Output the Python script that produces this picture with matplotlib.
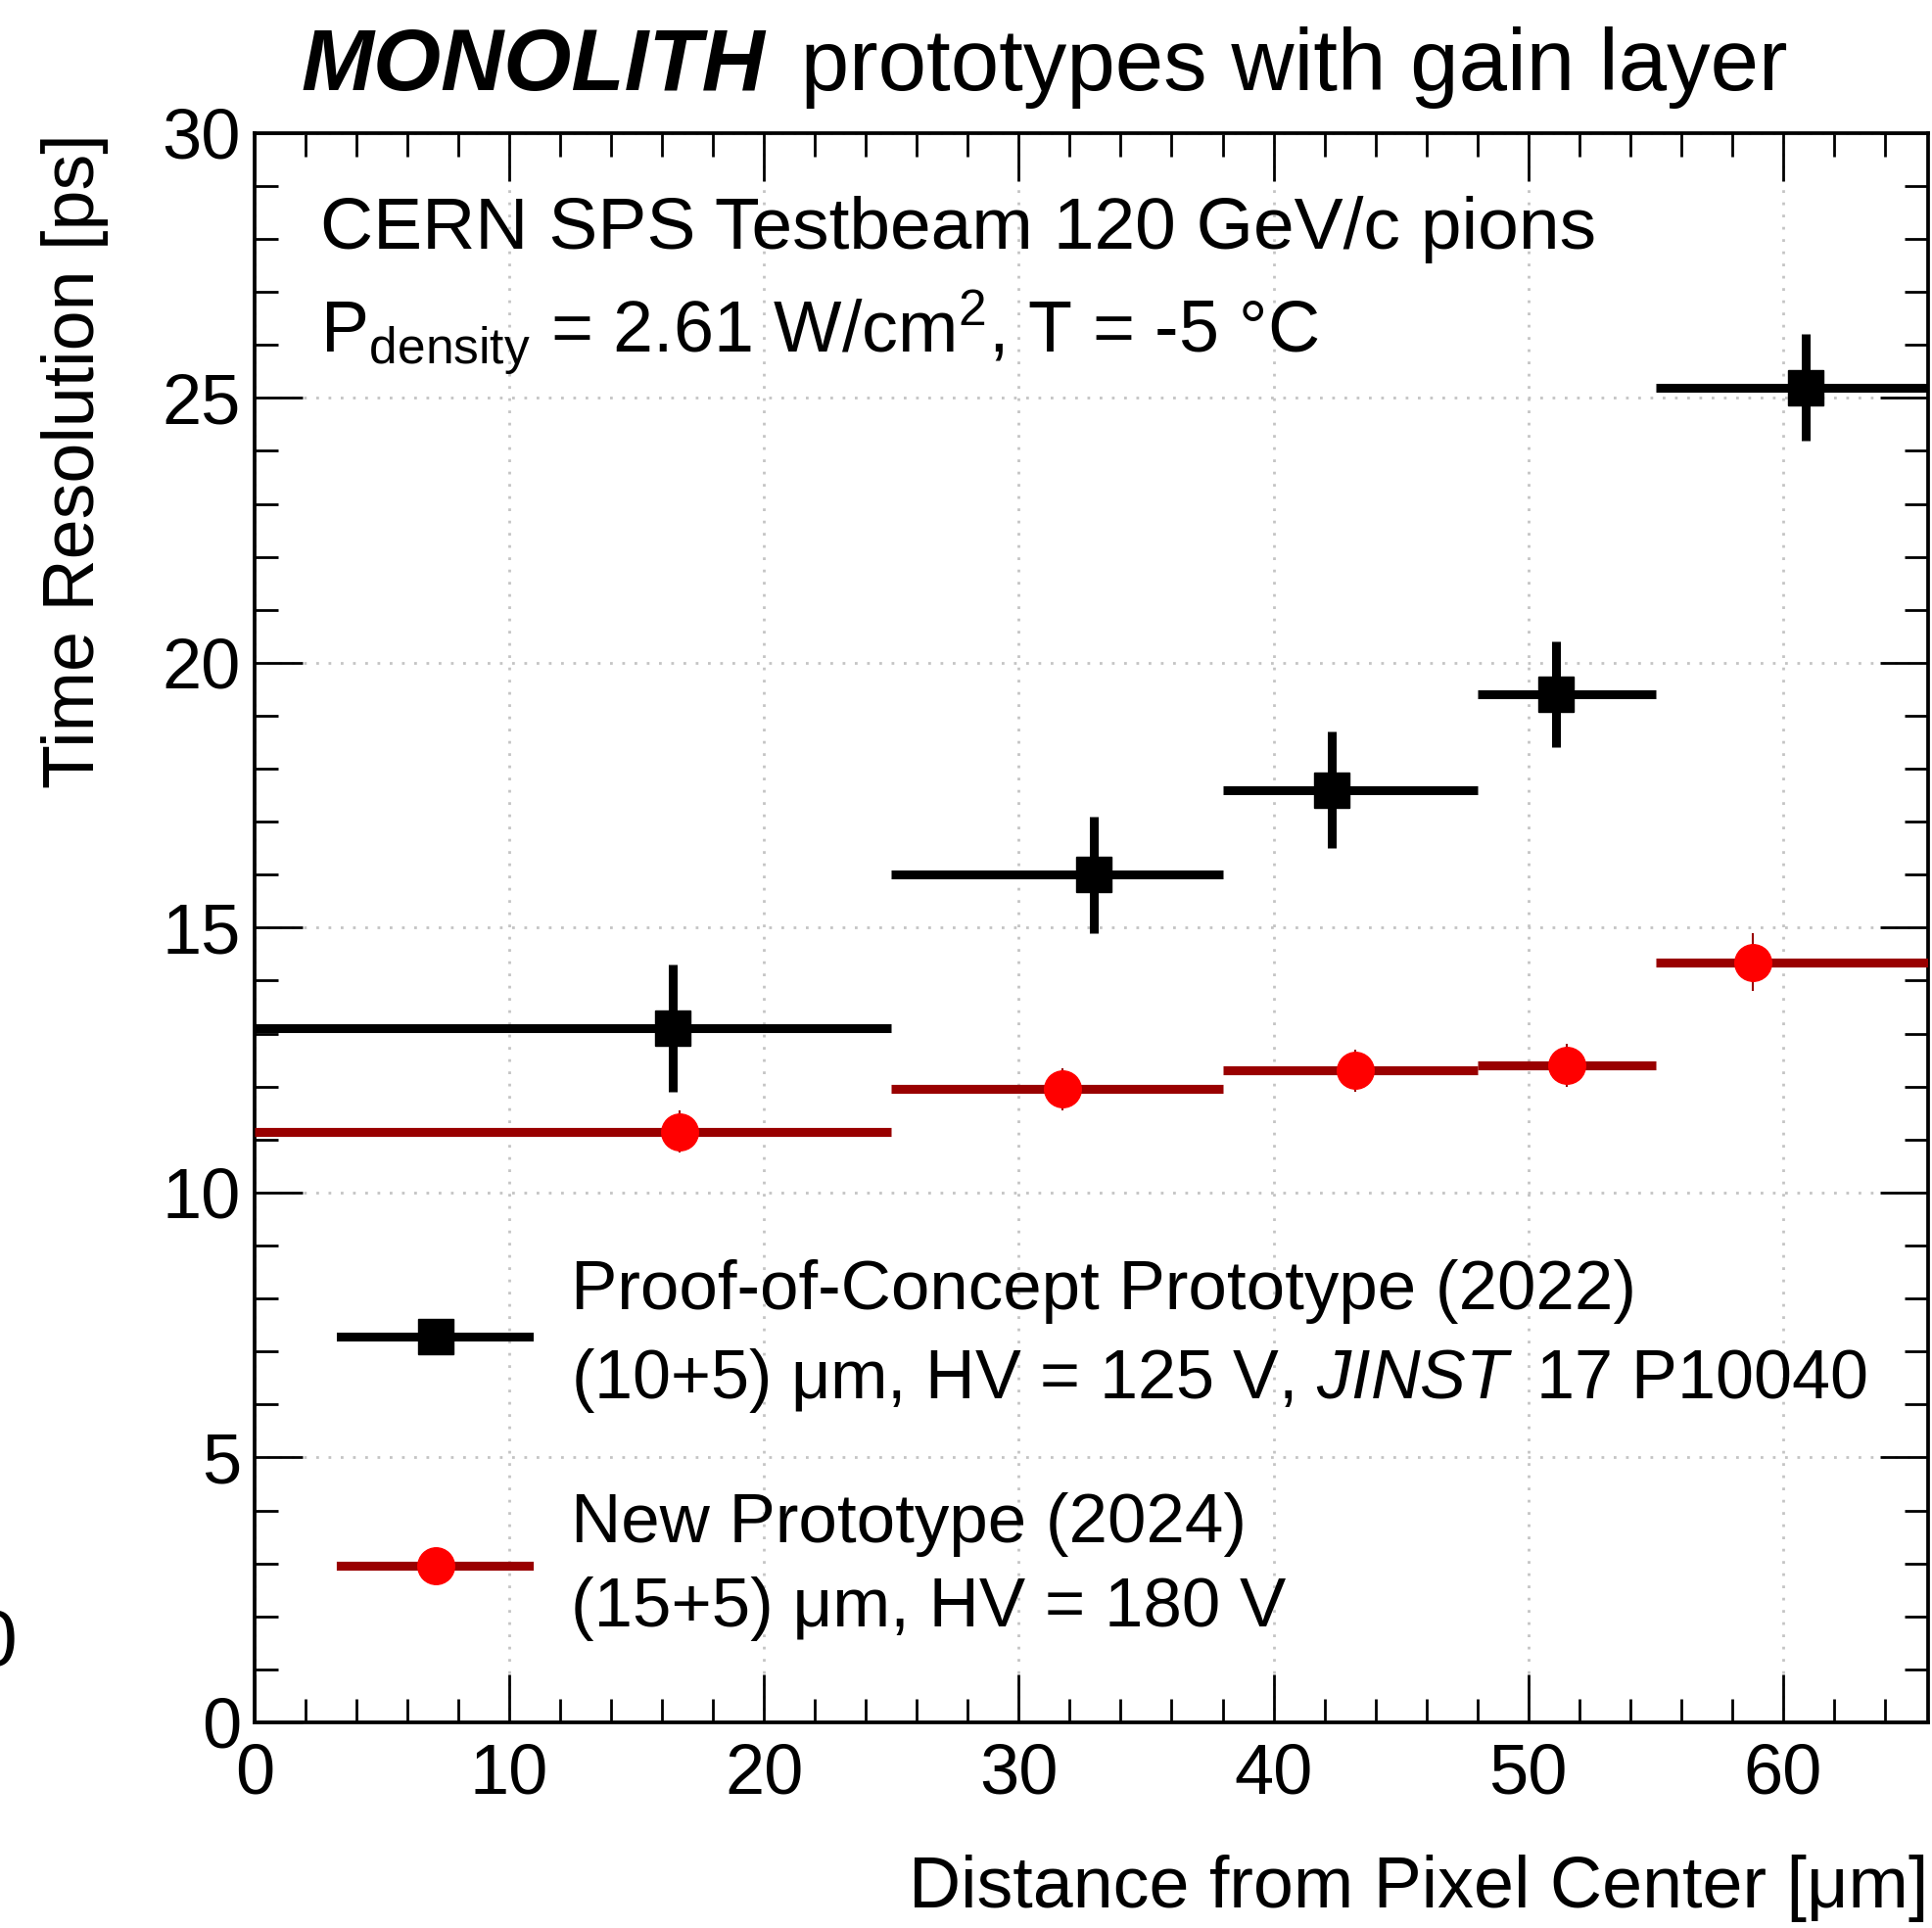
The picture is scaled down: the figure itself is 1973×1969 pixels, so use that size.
import matplotlib
matplotlib.use("Agg")
import matplotlib.pyplot as plt
from matplotlib.ticker import MultipleLocator

plt.rcParams["font.family"] = ["Liberation Sans", "DejaVu Sans"]
plt.rcParams["mathtext.fontset"] = "custom"
plt.rcParams["mathtext.rm"] = "Liberation Sans"
plt.rcParams["mathtext.it"] = "Liberation Sans:italic"
plt.rcParams["mathtext.bf"] = "Liberation Sans:bold"

# distance bins [um]
bin_lo = [0, 25, 38, 48, 55]
bin_hi = [25, 38, 48, 55, 65.7]

# Proof-of-Concept prototype (2022)
poc_x = [16.4, 32.95, 42.3, 51.1, 60.9]
poc_y = [13.1, 16.0, 17.6, 19.4, 25.2]
poc_err = [1.2, 1.1, 1.1, 1.0, 1.0]

# New prototype (2024)
new_x = [16.7, 31.7, 43.2, 51.5, 58.8]
new_y = [11.15, 11.95, 12.3, 12.4, 14.35]
new_err = [0.4, 0.4, 0.4, 0.4, 0.55]

dark_red = "#990000"

fig = plt.figure(figsize=(19.73, 19.69), dpi=100)
ax = fig.add_axes([0.1318, 0.1067, 0.8662, 0.8243])

# new prototype: bin-width bars, thin y errors, red dots
ax.errorbar(new_x, new_y,
            xerr=[[x - lo for x, lo in zip(new_x, bin_lo)],
                  [hi - x for x, hi in zip(new_x, bin_hi)]],
            fmt="none", ecolor=dark_red, elinewidth=6.6, capsize=0, zorder=3)
ax.errorbar(new_x, new_y, yerr=new_err, fmt="o", ms=27, color="red",
            ecolor=dark_red, elinewidth=1.5, capsize=0, zorder=4)

# proof-of-concept: black squares
ax.errorbar(poc_x, poc_y,
            xerr=[[x - lo for x, lo in zip(poc_x, bin_lo)],
                  [hi - x for x, hi in zip(poc_x, bin_hi)]],
            yerr=poc_err, fmt="s", ms=26.4, color="black",
            elinewidth=6.5, capsize=0, zorder=5)

ax.set_xlim(0, 65.7)
ax.set_ylim(0, 30)
ax.xaxis.set_major_locator(MultipleLocator(10))
ax.xaxis.set_minor_locator(MultipleLocator(2))
ax.yaxis.set_major_locator(MultipleLocator(5))
ax.yaxis.set_minor_locator(MultipleLocator(1))
ax.tick_params(which="both", direction="in", top=True, right=True, width=2.0)
ax.tick_params(which="major", length=35)
ax.tick_params(which="minor", length=17)
ax.tick_params(axis="x", labelsize=52, pad=15)
ax.tick_params(axis="y", labelsize=52, pad=10)
for s in ax.spines.values():
    s.set_linewidth(2.7)
ax.grid(True, which="major", color="#c4c4c4", linestyle=(0, (1, 3.5)), linewidth=2)

ax.set_xlabel("Distance from Pixel Center [μm]", fontsize=53, loc="right")
ax.xaxis.set_label_coords(1.0, -0.083)
ax.set_ylabel("Time Resolution [ps]", fontsize=53, loc="top")
ax.yaxis.set_label_coords(-0.087, 1.0)

# title
t1 = fig.text(0.156, 0.9535, "MONOLITH", fontsize=64, fontweight="bold",
              fontstyle="italic", va="baseline")
ax.annotate(" prototypes with gain layer", xy=(1, 0), xycoords=t1,
            xytext=(8, 0), textcoords="offset points", fontsize=64,
            va="bottom", annotation_clip=False)

# running conditions
ax.text(0.039, 0.927, "CERN SPS Testbeam 120 GeV/c pions", fontsize=54,
        transform=ax.transAxes, va="baseline")
ax.text(0.039, 0.861, r"P$_{\mathrm{density}}$ = 2.61 W/cm$^{2}$, T = -5 °C",
        fontsize=53, transform=ax.transAxes, va="baseline")

# legend
ax.plot([0.0515, 0.164], [0.2428, 0.2428], color="black", lw=6.5,
        transform=ax.transAxes, zorder=6)
ax.plot([0.108], [0.2428], "s", ms=26.4, color="black", transform=ax.transAxes, zorder=7)
ax.text(0.1887, 0.26, "Proof-of-Concept Prototype (2022)", fontsize=51,
        transform=ax.transAxes, va="baseline")
ax.text(0.1887, 0.204, r"(10+5) μm, HV = 125 V, $\mathit{JINST}\,$ 17 P10040",
        fontsize=50.5, transform=ax.transAxes, va="baseline")

ax.plot([0.0515, 0.164], [0.0987, 0.0987], color=dark_red, lw=6.6,
        transform=ax.transAxes, zorder=6)
ax.plot([0.108], [0.0987], "o", ms=27, color="red", transform=ax.transAxes, zorder=7)
ax.text(0.1887, 0.1133, "New Prototype (2024)", fontsize=51,
        transform=ax.transAxes, va="baseline")
ax.text(0.1887, 0.0603, "(15+5) μm, HV = 180 V", fontsize=51,
        transform=ax.transAxes, va="baseline")

# clipped glyph at the left edge of the original figure
fig.text(0.009, 0.1468, "0", fontsize=58, ha="right", va="center")

fig.savefig("out.png", dpi=100)
